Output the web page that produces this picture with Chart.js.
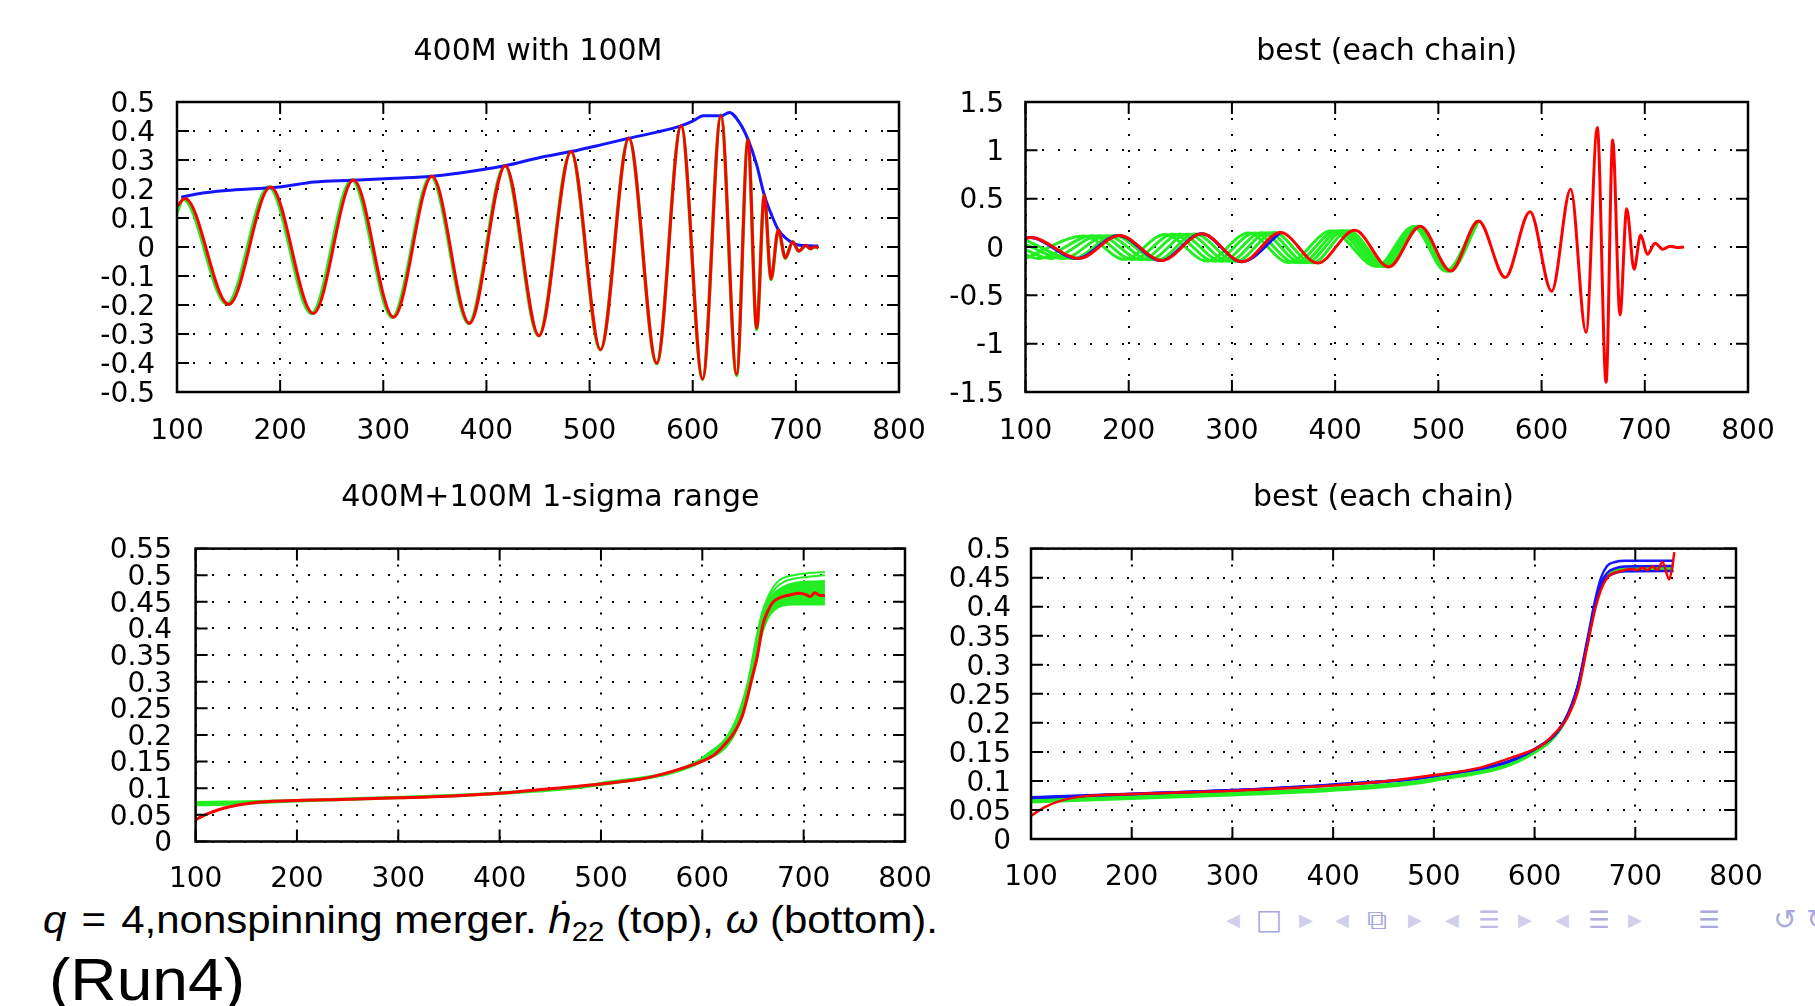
<!DOCTYPE html>
<html>
<head>
<meta charset="utf-8">
<script src="https://cdn.jsdelivr.net/npm/chart.js@4.4.0/dist/chart.umd.min.js"></script>
<style>
  html, body { margin: 0; padding: 0; }
  body { width: 1815px; height: 1006px; background: #fff; position: relative; overflow: hidden; }
  canvas { position: absolute; }
  .txt { position: absolute; white-space: nowrap; color: #000; font-family: 'Liberation Sans', Arial, sans-serif; transform-origin: 0 0; line-height: 1; }
  .txt sub { font-size: 0.7em; vertical-align: -0.28em; line-height: 0; }
  .nav { position: absolute; transform: translate(-50%, -50%); font-family: 'DejaVu Sans', sans-serif; line-height: 1; }
</style>
</head>
<body>
<div id="caption" class="txt" style="left:43px; top:900px; font-size:39px;"><i>q</i>&#8202; = &#8202;4,nonspinning merger. <i>ḣ</i><sub>22</sub> (top), <i>ω</i> (bottom).</div>
<div id="run" class="txt" style="left:49px; top:950px; font-size:60px;">(Run4)</div>
<script>
// ---- top-left: 400M with 100M  (x, y)
const tlRed = [[100, 0.14], [107.8, 0.167], [150.3, -0.198], [190.7, 0.207], [232.2, -0.229], [271.1, 0.231],
  [310, -0.242], [347.3, 0.244], [383.6, -0.263], [418.4, 0.28], [451, -0.306], [482.1, 0.329], [510.7, -0.354],
  [538.1, 0.375], [565.1, -0.4], [588.8, 0.418], [609.6, -0.455], [627.4, 0.453], [642.6, -0.439], [653.6, 0.371],
  [662, -0.28], [669.4, 0.179], [675.9, -0.11], [683, 0.059], [689.8, -0.037], [697, 0.018], [702.7, -0.014],
  [709.8, 0.005], [714, -0.006], [718, 0.001], [721.7, -0.003]];
const tlGreen = [[100, 0.12], [106, 0.165], [148.5, -0.196], [189, 0.207], [230.5, -0.229], [269.5, 0.231],
  [308.8, -0.242], [346.3, 0.244], [382.8, -0.263], [417.8, 0.28], [450.5, -0.306], [481.8, 0.329], [510.4, -0.354],
  [538, 0.375], [565, -0.402], [588.7, 0.418], [609.5, -0.457], [627.3, 0.455], [642.5, -0.443], [653.6, 0.371],
  [662, -0.284], [669.4, 0.179], [675.9, -0.112], [683, 0.059], [689.8, -0.039], [697, 0.018], [702.7, -0.014],
  [709.8, 0.005], [714, -0.006], [718, 0.001], [721.7, -0.003]];
const tlBlue = [[104, 0.172], [125, 0.186], [145, 0.194], [170, 0.2], [200, 0.207], [233, 0.224], [270, 0.23],
  [311, 0.237], [347, 0.244], [389, 0.263], [418, 0.28], [451, 0.308], [482, 0.329], [513, 0.354], [538, 0.375],
  [565, 0.396], [588, 0.417], [600, 0.434], [610.3, 0.453], [620, 0.4525], [627.4, 0.452], [635.5, 0.464],
  [645.8, 0.4265], [653.6, 0.371], [662, 0.283], [669.4, 0.179], [676.5, 0.11], [683, 0.059], [691.1, 0.028],
  [699.2, 0.01], [708.7, 0.005], [721.7, 0.0035]];

// ---- top-right: best (each chain)
const trRed = [[100, 0.092], [105, 0.097], [152, -0.118], [191, 0.12], [232, -0.14], [271, 0.136], [310, -0.152],
  [347, 0.15], [383, -0.166], [419, 0.172], [452, -0.206], [482.5, 0.215], [512, -0.249], [539, 0.27],
  [564.8, -0.315], [588.8, 0.364], [609.8, -0.457], [628.2, 0.597], [643.1, -0.883], [654, 1.235], [662.5, -1.4],
  [668.9, 1.107], [676, -0.703], [682.5, 0.395], [689.6, -0.23], [696, 0.124], [702.5, -0.076], [710, 0.038],
  [717.4, -0.024], [724.6, 0.009], [731, -0.005], [738, 0]];
const trBlue = [[100, 0.094], [104, 0.097], [150, -0.119], [190, 0.12], [231, -0.14], [270.5, 0.136], [309.5, -0.152],
  [347, 0.15]];
const trGreen1 = [[100, -0.117], [157, 0.115], [196, -0.128], [235, 0.13], [276, -0.145], [316, 0.145], [355, -0.16],
  [396, 0.165], [440, -0.2], [476, 0.213], [507, -0.248], [537, 0.27]];
const trGreen2 = [[100, -0.083], [112, -0.118], [165, 0.116], [204, -0.13], [243, 0.131], [283, -0.146], [322, 0.146],
  [361, -0.161], [401, 0.166], [443, -0.201], [478, 0.213], [508, -0.248], [537.5, 0.27]];
const trGreen3 = [[100, -0.03], [124, -0.118], [172, 0.117], [212, -0.131], [250, 0.132], [290, -0.147], [329, 0.147],
  [367, -0.162], [405, 0.167], [446, -0.202], [479, 0.214], [509, -0.248], [538, 0.27]];
const trGreen4 = [[100, 0.028], [136, -0.119], [179, 0.117], [220, -0.132], [257, 0.133], [297, -0.148], [335, 0.148],
  [372, -0.163], [409, 0.168], [448, -0.203], [480, 0.214], [510, -0.248], [538.5, 0.27]];
const trGreen5 = [[100, 0.072], [146, -0.12], [186, 0.118], [228, -0.134], [264, 0.134], [304, -0.149], [341, 0.149],
  [378, -0.164], [413, 0.169], [450, -0.204], [481, 0.215], [511, -0.248], [539, 0.27]];

// ---- bottom-left: 400M+100M 1-sigma range
const blRed = [[100, 0.041], [111.6, 0.052], [127.5, 0.0625], [143.3, 0.069], [164.4, 0.074], [200, 0.077],
  [243.7, 0.079], [300, 0.082], [349, 0.085], [400, 0.0906], [449.7, 0.099], [500, 0.108], [544.3, 0.119],
  [576, 0.135], [600, 0.151], [610.5, 0.161], [621, 0.18], [631.6, 0.205], [639.5, 0.236], [648, 0.299],
  [654.5, 0.35], [659.5, 0.405], [664.5, 0.432], [670, 0.45], [676.7, 0.458], [686.5, 0.463], [696.4, 0.466],
  [702.9, 0.463], [706.3, 0.46], [711.2, 0.467], [716.1, 0.462], [721, 0.462]];
const blBandX  = [100, 130, 160, 200, 300, 400, 500, 600, 630, 645, 653, 659, 665, 672, 680, 690, 705, 721];
const blBandLo = [0.068, 0.069, 0.072, 0.075, 0.081, 0.089, 0.106, 0.150, 0.195, 0.27, 0.34, 0.39, 0.42, 0.436,
  0.443, 0.445, 0.445, 0.445];
const blBandHi = [0.074, 0.075, 0.076, 0.078, 0.084, 0.092, 0.110, 0.156, 0.21, 0.29, 0.37, 0.42, 0.45, 0.468,
  0.478, 0.485, 0.488, 0.489];
const blGreenUp1 = [[600, 0.156], [630, 0.215], [645, 0.3], [653, 0.38], [659, 0.43], [665, 0.46], [670, 0.478],
  [677, 0.492], [690, 0.5], [705, 0.504], [721, 0.506]];
const blGreenUp2 = [[600, 0.155], [630, 0.21], [645, 0.295], [653, 0.37], [659, 0.425], [665, 0.455], [672, 0.475],
  [680, 0.487], [695, 0.495], [721, 0.5]];

// ---- bottom-right: best (each chain)
const brRed = [[100, 0.04], [113.3, 0.0545], [129.8, 0.066], [151.9, 0.0734], [200, 0.0774], [300, 0.083],
  [400, 0.092], [449.7, 0.099], [500, 0.11], [543.6, 0.122], [576.8, 0.14], [600.6, 0.155], [610, 0.165],
  [621, 0.1835], [632.6, 0.209], [643.6, 0.258], [651.8, 0.327], [660.2, 0.396], [666.9, 0.433], [674, 0.453],
  [685, 0.461], [697, 0.465], [702.2, 0.463], [707.1, 0.467], [712.1, 0.463], [717, 0.469], [722, 0.463],
  [727, 0.477], [733.7, 0.447], [737, 0.471], [738.7, 0.494]];
const brBlue1 = [[100, 0.0717], [200, 0.078], [300, 0.0843], [400, 0.094], [500, 0.109], [600, 0.155], [630, 0.205],
  [643, 0.265], [652, 0.34], [660, 0.41], [666, 0.45], [672, 0.47], [680, 0.477], [690, 0.479], [738, 0.479]];
const brBlue2 = [[100, 0.0712], [200, 0.0776], [300, 0.0838], [400, 0.0935], [500, 0.1085], [600, 0.1545],
  [630, 0.204], [643, 0.263], [652, 0.335], [660, 0.402], [666, 0.44], [672, 0.458], [680, 0.466], [690, 0.469],
  [738, 0.47]];
const brBlue3 = [[100, 0.0708], [200, 0.0772], [300, 0.0834], [400, 0.093], [500, 0.108], [600, 0.154],
  [630, 0.203], [643, 0.262], [652, 0.333], [660, 0.398], [666, 0.435], [672, 0.451], [680, 0.458], [690, 0.461],
  [738, 0.4616]];
const brBandX  = [100, 200, 300, 400, 500, 600, 630, 643, 652, 660, 666, 672, 680, 690, 738];
const brBandLo = [0.063, 0.069, 0.075, 0.083, 0.100, 0.148, 0.2, 0.26, 0.33, 0.4, 0.435, 0.452, 0.459, 0.461, 0.462];
const brBandHi = [0.0695, 0.074, 0.08, 0.088, 0.104, 0.152, 0.205, 0.265, 0.337, 0.405, 0.44, 0.458, 0.464, 0.466, 0.467];

const RED = '#ff0000', GREEN = '#22ee22', BLUE = '#1414ff';

Chart.defaults.font.family = 'DejaVu Sans';
Chart.defaults.color = '#000';

const pts = a => a.map(([x, y]) => ({x, y}));
const line = (data, color, width) => ({data: pts(data), borderColor: color, borderWidth: width, fill: false});
const band = (xs, lo, hi, color) => [
  {data: xs.map((x, i) => ({x, y: lo[i]})), borderColor: color, borderWidth: 2, fill: false},
  {data: xs.map((x, i) => ({x, y: hi[i]})), borderColor: color, borderWidth: 2, backgroundColor: color, fill: '-1'},
];

// gnuplot style border with inward ticks on all four sides
const frame = {
  id: 'frame',
  afterDatasetsDraw(chart) {
    const {ctx, chartArea: a, scales} = chart;
    ctx.save();
    ctx.strokeStyle = '#000';
    ctx.lineWidth = 2;
    ctx.beginPath();
    scales.x.ticks.forEach(t => {
      const px = scales.x.getPixelForValue(t.value);
      ctx.moveTo(px, a.bottom); ctx.lineTo(px, a.bottom - 12);
      ctx.moveTo(px, a.top); ctx.lineTo(px, a.top + 12);
    });
    scales.y.ticks.forEach(t => {
      const py = scales.y.getPixelForValue(t.value);
      ctx.moveTo(a.left, py); ctx.lineTo(a.left + 12, py);
      ctx.moveTo(a.right, py); ctx.lineTo(a.right - 12, py);
    });
    ctx.stroke();
    ctx.lineWidth = 2.5;
    ctx.strokeRect(a.left, a.top, a.right - a.left, a.bottom - a.top);
    ctx.restore();
  }
};

function panel(box, plot, title, y, datasets) {
  const c = document.createElement('canvas');
  c.width = box.w;
  c.height = box.h;
  c.style.left = box.l + 'px';
  c.style.top = box.t + 'px';
  document.body.appendChild(c);

  const titleTop = title.y - box.t - 18;
  const titleBottom = plot.t - box.t - titleTop - 36;
  const grid = {color: '#000', lineWidth: 2, drawTicks: false};
  const border = {display: false, dash: [2, 14]};

  new Chart(c, {
    type: 'line',
    data: {datasets},
    options: {
      responsive: false,
      animation: false,
      devicePixelRatio: 1,
      layout: {padding: {left: 0, top: 0, bottom: 0, right: box.l + box.w - plot.r}},
      elements: {point: {radius: 0}, line: {cubicInterpolationMode: 'monotone'}},
      plugins: {
        legend: {display: false},
        tooltip: {enabled: false},
        title: {
          display: true, text: title.text, fullSize: false, color: '#000',
          font: {size: 30, weight: 'normal'}, padding: {top: titleTop, bottom: titleBottom},
        },
      },
      scales: {
        x: {
          type: 'linear', min: 100, max: 800,
          ticks: {stepSize: 100, autoSkip: false, maxRotation: 0, font: {size: 28}, padding: title.xLabelY - plot.b - 16.8},
          grid, border,
          afterFit: s => {
            s.height = box.t + box.h - plot.b;
            s.paddingLeft = 0;
            s.paddingRight = 0;
          },
        },
        y: {
          min: y.min, max: y.max,
          ticks: {stepSize: y.step, autoSkip: false, font: {size: 28}, padding: plot.l - title.yLabelRight,
            labelOffset: 2.5, callback: v => String(Math.round(v * 100) / 100)},
          grid, border,
          afterFit: s => { s.width = plot.l - box.l; },
        },
      },
    },
    plugins: [frame],
  });
}

panel({l: 0, t: 0, w: 930, h: 455}, {l: 177, t: 102, r: 899, b: 392},
  {text: '400M with 100M', y: 52, xLabelY: 431.5, yLabelRight: 155},
  {min: -0.5, max: 0.5, step: 0.1},
  [line(tlRed, RED, 3), line(tlBlue, BLUE, 3), line(tlGreen, GREEN, 3.5)]);

panel({l: 930, t: 0, w: 885, h: 455}, {l: 1025.5, t: 102, r: 1748, b: 392},
  {text: 'best (each chain)', y: 52, xLabelY: 431.5, yLabelRight: 1004},
  {min: -1.5, max: 1.5, step: 0.5},
  [line(trRed, RED, 3), line(trBlue, BLUE, 3),
   line(trGreen1, GREEN, 3), line(trGreen2, GREEN, 3), line(trGreen3, GREEN, 3),
   line(trGreen4, GREEN, 3), line(trGreen5, GREEN, 3)]);

panel({l: 0, t: 455, w: 930, h: 445}, {l: 195.6, t: 548.6, r: 905, b: 841.5},
  {text: '400M+100M 1-sigma range', y: 498.5, xLabelY: 879.5, yLabelRight: 172},
  {min: 0, max: 0.55, step: 0.05},
  [line(blRed, RED, 3), line(blGreenUp1, GREEN, 2), line(blGreenUp2, GREEN, 2),
   ...band(blBandX, blBandLo, blBandHi, GREEN)]);

panel({l: 930, t: 455, w: 885, h: 445}, {l: 1031, t: 548.6, r: 1736, b: 839},
  {text: 'best (each chain)', y: 498.5, xLabelY: 877.5, yLabelRight: 1011},
  {min: 0, max: 0.5, step: 0.05},
  [line(brRed, RED, 2.5), line(brBlue1, BLUE, 2.5), line(brBlue2, BLUE, 2.5), line(brBlue3, BLUE, 2.5),
   ...band(brBandX, brBandLo, brBandHi, GREEN)]);

// beamer navigation symbols
const navSymbols = [['◀', 1233, '#d0d0ec', 18], ['□', 1269, '#a8a8de', 28], ['▶', 1306, '#d0d0ec', 18],
  ['◀', 1342, '#d0d0ec', 18], ['⧉', 1377, '#a8a8de', 28], ['▶', 1415, '#d0d0ec', 18],
  ['◀', 1452, '#d0d0ec', 18], ['☰', 1489, '#bcbce6', 24], ['▶', 1525, '#d0d0ec', 18],
  ['◀', 1562, '#d0d0ec', 18], ['☰', 1599, '#b0b0e0', 24], ['▶', 1635, '#d0d0ec', 18],
  ['☰', 1709, '#a8a8de', 24], ['↺', 1785, '#a8a8de', 28], ['↻', 1818, '#a8a8de', 28]];
navSymbols.forEach(([ch, x, color, size]) => {
  const s = document.createElement('span');
  s.className = 'nav';
  s.textContent = ch;
  s.style.left = x + 'px';
  s.style.top = '920px';
  s.style.color = color;
  s.style.fontSize = size + 'px';
  document.body.appendChild(s);
});

// stretch caption lines to the measured widths
function fitWidth(id, w) {
  const el = document.getElementById(id);
  const nat = el.getBoundingClientRect().width;
  el.style.transform = 'scaleX(' + (w / nat) + ')';
}
fitWidth('caption', 895);
fitWidth('run', 196);
</script>
</body>
</html>
